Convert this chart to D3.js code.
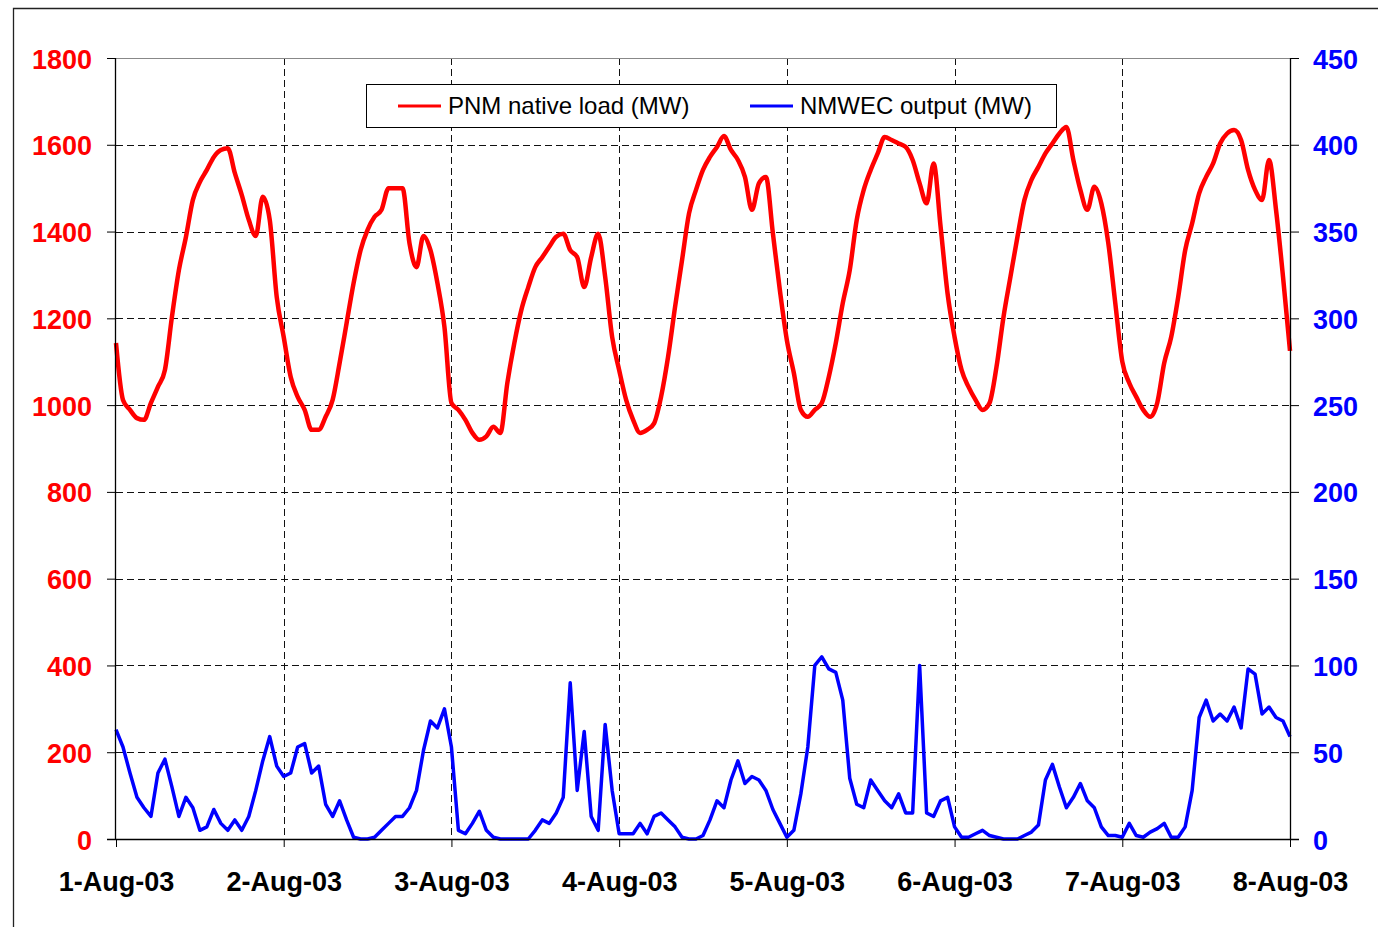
<!DOCTYPE html>
<html lang="en">
<head>
    <meta charset="UTF-8">
    <title>PNM load and NMWEC output</title>
    <script src="https://d3js.org/d3.v7.min.js"></script>
</head>
<style>
    html,body {
        margin: 0;
        padding: 0;
        background: #fff;
    }
</style>
<body>
    <div id="chart"></div>
</body>
<script>
    // hourly values, 1-Aug-03 00:00 .. 8-Aug-03 00:00
    const loadMW = [
        1143, 1012, 989, 970, 966, 1005, 1042, 1081, 1203, 1311, 1387, 1473, 1514, 1542, 1572, 1588, 1592, 1535, 1484, 1427, 1390, 1480, 1427, 1249,
        1157, 1065, 1019, 989, 943, 943, 973, 1012, 1097, 1189, 1281, 1357, 1404, 1434, 1450, 1500, 1500, 1500, 1373, 1318, 1390, 1357, 1281, 1180,
        1005, 989, 966, 936, 920, 928, 950, 936, 1051, 1143, 1219, 1272, 1318, 1341, 1365, 1388, 1395, 1357, 1341, 1272, 1341, 1395, 1296, 1157,
        1081, 1012, 966, 936, 943, 958, 1019, 1111, 1226, 1334, 1442, 1496, 1542, 1572, 1595, 1620, 1588, 1565, 1526, 1450, 1511, 1526, 1396, 1265,
        1150, 1074, 989, 973, 989, 1005, 1065, 1143, 1235, 1311, 1427, 1496, 1542, 1580, 1618, 1611, 1603, 1595, 1565, 1511, 1465, 1557, 1411, 1257,
        1157, 1081, 1042, 1012, 989, 1005, 1088, 1203, 1296, 1388, 1473, 1519, 1549, 1580, 1603, 1626, 1641, 1565, 1496, 1450, 1503, 1465, 1373, 1235,
        1100, 1051, 1019, 989, 973, 1005, 1097, 1157, 1249, 1357, 1419, 1488, 1526, 1557, 1603, 1626, 1634, 1611, 1542, 1496, 1473, 1565, 1450, 1296,
        1125
    ];
    const windMW = [
        63, 53, 38, 24, 18, 13, 38, 46, 30, 13, 24, 18, 5, 7, 17, 9, 5, 11, 5, 13, 28, 45, 59, 42,
        36, 38, 53, 55, 38, 42, 20, 13, 22, 11, 1, 0, 0, 1, 5, 9, 13, 13, 18, 28, 51, 68, 64, 75,
        53, 5, 3, 9, 16, 5, 1, 0, 0, 0, 0, 0, 5, 11, 9, 15, 24, 90, 28, 62, 13, 5, 66, 28,
        3, 3, 3, 9, 3, 13, 15, 11, 7, 1, 0, 0, 2, 11, 22, 18, 34, 45, 32, 36, 34, 28, 17, 9,
        1, 5, 26, 53, 100, 105, 98, 96, 80, 35, 20, 18, 34, 28, 22, 18, 26, 15, 15, 100, 15, 13, 22, 24,
        7, 1, 1, 3, 5, 2, 1, 0, 0, 0, 2, 4, 8, 34, 43, 30, 18, 24, 32, 22, 18, 7, 2, 2,
        1, 9, 2, 1, 4, 6, 9, 1, 1, 7, 28, 70, 80, 68, 72, 68, 76, 64, 98, 95, 72, 76, 70, 68,
        59
    ];
    const leftTicks = [0, 200, 400, 600, 800, 1000, 1200, 1400, 1600, 1800];
    const rightTicks = [0, 50, 100, 150, 200, 250, 300, 350, 400, 450];
    const seriesNames = ['PNM native load (MW)', 'NMWEC output (MW)'];
    const startDate = Date.UTC(2003, 7, 1);
    const endDate = Date.UTC(2003, 7, 8);

    const width = 1378;
    const height = 927;
    // plot area
    const plot = {left: 116, right: 1290, top: 58, bottom: 839};
    const font = '"Liberation Sans", Arial, sans-serif';

    const svg = d3.select('#chart').append('svg')
        .attr('width', width)
        .attr('height', height);

    // outer frame (runs off the page at right and bottom)
    svg.append('path')
        .attr('d', `M13.5,${height + 2}V8.5H${width + 2}`)
        .attr('fill', 'none')
        .attr('stroke', '#222')
        .attr('stroke-width', 1.3);

    const x = d3.scaleUtc().domain([startDate, endDate]).range([plot.left, plot.right]);
    const yLeft = d3.scaleLinear().domain([0, 1800]).range([plot.bottom, plot.top]);
    const yRight = d3.scaleLinear().domain([0, 450]).range([plot.bottom, plot.top]);
    const hourDate = i => new Date(startDate + i * 3600 * 1000);

    // grid
    const dash = '7,4';
    svg.append('g').selectAll('line')
        .data(leftTicks.slice(1, -1))
        .join('line')
        .attr('x1', plot.left).attr('x2', plot.right)
        .attr('y1', d => Math.round(yLeft(d)) + 0.5).attr('y2', d => Math.round(yLeft(d)) + 0.5)
        .attr('stroke', '#111').attr('stroke-dasharray', dash);
    svg.append('g').selectAll('line')
        .data(d3.utcDay.range(hourDate(24), hourDate(168)))
        .join('line')
        .attr('x1', d => Math.round(x(d)) + 0.5).attr('x2', d => Math.round(x(d)) + 0.5)
        .attr('y1', plot.top).attr('y2', plot.bottom)
        .attr('stroke', '#111').attr('stroke-dasharray', dash);

    // top border of plot
    svg.append('line')
        .attr('x1', plot.left).attr('x2', plot.right)
        .attr('y1', plot.top + 0.5).attr('y2', plot.top + 0.5)
        .attr('stroke', '#888').attr('stroke-width', 1.2);

    // series
    const line = (arr, scale, curve) => d3.line()
        .curve(curve)
        .x((d, i) => x(hourDate(i)))
        .y(d => scale(d))(arr);

    svg.append('path')
        .attr('d', line(loadMW, yLeft, d3.curveMonotoneX))
        .attr('fill', 'none')
        .attr('stroke', '#ff0000')
        .attr('stroke-width', 4.5)
        .attr('stroke-linejoin', 'round');
    svg.append('path')
        .attr('d', line(windMW, yRight, d3.curveLinear))
        .attr('fill', 'none')
        .attr('stroke', '#0000ff')
        .attr('stroke-width', 3.5)
        .attr('stroke-linejoin', 'round');

    // axes
    const styleAxis = (g, color) => {
        g.select('.domain').remove();
        g.selectAll('line').attr('stroke', '#000');
        g.selectAll('text')
            .attr('fill', color)
            .style('font-family', font)
            .style('font-weight', 'bold')
            .style('font-size', '27px');
    };

    const gLeft = svg.append('g')
        .attr('transform', `translate(${plot.left},0)`)
        .call(d3.axisLeft(yLeft).tickValues(leftTicks).tickFormat(d3.format('d')).tickSize(9).tickPadding(15));
    styleAxis(gLeft, '#ff0000');
    gLeft.selectAll('text').attr('dy', '0.37em');

    const gRight = svg.append('g')
        .attr('transform', `translate(${plot.right},0)`)
        .call(d3.axisRight(yRight).tickValues(rightTicks).tickFormat(d3.format('d')).tickSize(9).tickPadding(14));
    styleAxis(gRight, '#0000ff');
    gRight.selectAll('text').attr('dy', '0.37em');

    const gBottom = svg.append('g')
        .attr('transform', `translate(0,${plot.bottom})`)
        .call(d3.axisBottom(x).ticks(d3.utcDay.every(1)).tickSize(8).tickFormat(d3.utcFormat('%-d-%b-%y')));
    styleAxis(gBottom, '#000');
    gBottom.selectAll('text').attr('y', 52).attr('dy', 0);

    // axis lines
    svg.append('line')
        .attr('x1', plot.left - 0.5).attr('x2', plot.left - 0.5)
        .attr('y1', plot.top).attr('y2', plot.bottom)
        .attr('stroke', '#000').attr('stroke-width', 1.3);
    svg.append('line')
        .attr('x1', plot.right + 0.5).attr('x2', plot.right + 0.5)
        .attr('y1', plot.top).attr('y2', plot.bottom)
        .attr('stroke', '#000').attr('stroke-width', 1.3);
    svg.append('line')
        .attr('x1', plot.left - 9).attr('x2', plot.right + 9)
        .attr('y1', plot.bottom + 0.5).attr('y2', plot.bottom + 0.5)
        .attr('stroke', '#000').attr('stroke-width', 1.3);

    // legend
    const legend = svg.append('g');
    legend.append('rect')
        .attr('x', 366.5).attr('y', 84.5)
        .attr('width', 690).attr('height', 43)
        .attr('fill', '#fff').attr('stroke', '#000');
    const legendItems = [
        {name: seriesNames[0], color: '#ff0000', x0: 398},
        {name: seriesNames[1], color: '#0000ff', x0: 750}
    ];
    legendItems.forEach(item => {
        legend.append('line')
            .attr('x1', item.x0).attr('x2', item.x0 + 43)
            .attr('y1', 106).attr('y2', 106)
            .attr('stroke', item.color).attr('stroke-width', 3);
        legend.append('text')
            .attr('x', item.x0 + 50).attr('y', 114)
            .style('font-family', font)
            .style('font-size', '24px')
            .attr('fill', '#000')
            .text(item.name);
    });
</script>
</html>
